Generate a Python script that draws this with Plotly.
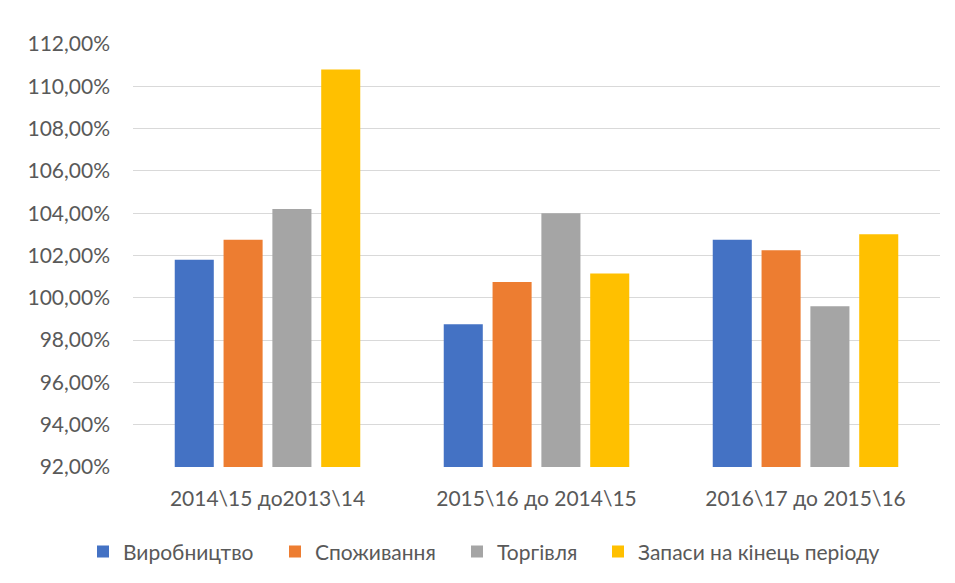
import plotly.graph_objects as go

categories = ["2014\\15 до2013\\14", "2015\\16 до 2014\\15", "2016\\17 до 2015\\16"]
series_names = ["Виробництво", "Споживання", "Торгівля", "Запаси на кінець періоду"]
vyrobnytstvo = [101.8, 98.75, 102.75]
spozhyvannia = [102.75, 100.75, 102.25]
torhivlia = [104.2, 104.0, 99.6]
zapasy = [110.8, 101.15, 103.0]
tick_vals = [92, 94, 96, 98, 100, 102, 104, 106, 108, 110, 112]
tick_text = ["92,00%", "94,00%", "96,00%", "98,00%", "100,00%", "102,00%",
             "104,00%", "106,00%", "108,00%", "110,00%", "112,00%"]

colors = ["#4472C4", "#ED7D31", "#A5A5A5", "#FFC000"]
font_family = "Lato, 'Open Sans', sans-serif"
text_color = "#595959"
legend_ids = ["legend", "legend2", "legend3", "legend4"]
legend_left_px = [75, 267, 449, 590]

fig = go.Figure()
for name, vals, c, lid in zip(series_names, [vyrobnytstvo, spozhyvannia, torhivlia, zapasy], colors, legend_ids):
    fig.add_trace(go.Bar(
        x=categories, y=[v - 92 for v in vals], base=92, name=name,
        marker=dict(color=c, line=dict(width=0)), legend=lid,
    ))

fig.update_layout(
    width=955, height=583,
    margin=dict(l=125, r=23, t=36, b=124),
    paper_bgcolor="white", plot_bgcolor="white",
    barmode="group", bargap=0.274, bargroupgap=0.2,
    font=dict(family=font_family, size=21, color=text_color),
    showlegend=True,
    xaxis=dict(showgrid=False, showline=False, ticks="", ticklabelstandoff=17,
               tickfont=dict(size=21, color=text_color)),
    yaxis=dict(range=[92, 112], tickvals=tick_vals, ticktext=tick_text,
               showgrid=True, gridcolor="#D9D9D9", gridwidth=1, zeroline=False,
               showline=False, ticks="", ticklabelstandoff=22,
               tickfont=dict(size=21, color=text_color)),
)
for lid, lx in zip(legend_ids, legend_left_px):
    fig.update_layout({lid: dict(orientation="h", xref="container", yref="container",
                                 x=lx / 955, xanchor="left", y=0.067, yanchor="middle",
                                 bgcolor="rgba(0,0,0,0)",
                                 font=dict(size=21, color=text_color), itemwidth=30)})

fig.write_html("out.html")
